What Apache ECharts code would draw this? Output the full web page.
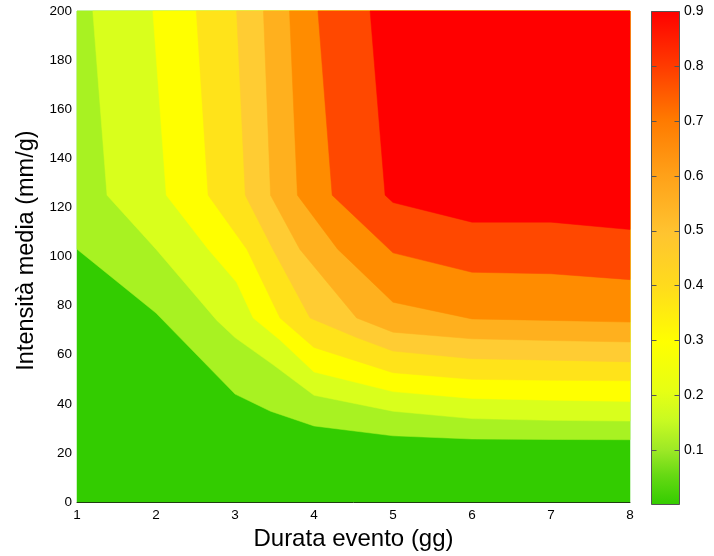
<!DOCTYPE html>
<html><head><meta charset="utf-8">
<script src="https://cdn.jsdelivr.net/npm/echarts@6/dist/echarts.min.js"></script>
<style>html,body{margin:0;padding:0;background:#fff}#c{width:714px;height:556px}</style>
</head><body><div id="c"></div>
<script>
// Axis ranges / ticks
const xRange = [1, 8];
const yRange = [0, 200];
const cbRange = [0, 0.9];
const cbTicks = [0.1, 0.2, 0.3, 0.4, 0.5, 0.6, 0.7, 0.8, 0.9];

// Contour boundary lines: [durata (gg), intensità (mm/g)]
const c1 = [[1,103],[2,77],[3,44],[3.45,37],[4,31],[5,27],[6,25.7],[7,25.5],[8,25.4]];
const c2 = [[1.2,200],[1.38,125],[2.0,103],[2.77,74],[3.0,67],[3.48,56],[4,43.5],[5,37],[6,34],[7,33.3],[8,33]];
const c3 = [[1.96,200],[2.13,125],[2.66,103],[3.02,89.5],[3.23,75],[3.57,66],[4,53],[5,45],[6,42.2],[7,41.5],[8,41]];
const c4 = [[2.51,200],[2.66,125],[3.15,103],[3.57,75],[4,63],[5,52.7],[6,50],[7,49.6],[8,49.4]];
const c5 = [[3.02,200],[3.13,125],[3.48,103],[3.95,75],[4.54,67],[5,61.5],[6,58.4],[7,57.8],[8,57.1]];
const c6 = [[3.36,200],[3.45,125],[3.82,103],[4.54,75],[5,69.2],[6,66.5],[7,65.8],[8,65.2]];
const c7 = [[3.69,200],[3.79,125],[4.3,103],[5,81.4],[6,74.6],[7,74],[8,73.3]];
const c8 = [[4.05,200],[4.23,125],[5,101.5],[6,93.6],[7,93],[8,90.6]];
const c9 = [[4.71,200],[4.9,125],[5,122],[6,114],[7,114],[8,111]];
const boundaries = [c1,c2,c3,c4,c5,c6,c7,c8,c9];

// Fill colours, low to high
const bandColors = ['#33CC00','#A8F222','#D9FF1C','#FFFF00','#FFE31A','#FFCC33','#FFB01E','#FF8C00','#FF4800','#FF0000'];
// Colour bar gradient stops (bottom -> top)
const cbStops = [[0,'#33CC00'],[0.06,'#66D913'],[0.11,'#9CE826'],[0.17,'#C8FA22'],[0.23,'#E6FF14'],[0.33,'#FFFF00'],[0.44,'#FFDC1C'],[0.55,'#FFC430'],[0.67,'#FFA018'],[0.78,'#FF7A00'],[0.89,'#FF3A00'],[1,'#FF0000']];

const font = 'Liberation Sans, Arial, sans-serif';

function bandSeries(i){
  return {
    type:'custom', xAxisIndex:0, yAxisIndex:0, silent:true, animation:false,
    data:[[xRange[0], yRange[0]]],
    renderItem:function(params, api){
      let poly;
      if(i===0){
        poly = [[xRange[0],yRange[0]],[xRange[1],yRange[0]],[xRange[1],yRange[1]],[xRange[0],yRange[1]]];
      } else {
        const c = boundaries[i-1];
        poly = c.slice();
        poly.push([xRange[1], yRange[1]]);
        if(c[0][1] < yRange[1]) poly.push([xRange[0], yRange[1]]);
      }
      return {type:'polygon', shape:{points:poly.map(p=>api.coord(p))}, style:{fill:bandColors[i], stroke:bandColors[i], lineWidth:0.5}};
    },
    z: 2
  };
}

const series = [];
for(let i=0;i<bandColors.length;i++) series.push(bandSeries(i));

// colour bar with inward ticks on both sides
series.push({
  type:'custom', xAxisIndex:1, yAxisIndex:1, silent:true, animation:false,
  data:[[0,0]],
  renderItem:function(params, api){
    const p0 = api.coord([0, cbRange[1]]);
    const p1 = api.coord([1, cbRange[0]]);
    const x0 = Math.round(p0[0])+0.5, x1 = Math.round(p1[0])-0.5;
    const y0 = Math.round(p0[1])+0.5, y1 = Math.round(p1[1])-0.5;
    const children = [{type:'rect', shape:{x:x0, y:y0, width:x1-x0, height:y1-y0},
      style:{fill:{type:'linear', x:0, y:1, x2:0, y2:0, colorStops:cbStops.map(s=>({offset:s[0], color:s[1]}))}, stroke:'#555', lineWidth:1}}];
    cbTicks.forEach(function(t){
      const y = Math.round(api.coord([0, t])[1]) + 0.5;
      children.push({type:'line', shape:{x1:x0, y1:y, x2:x0+5, y2:y}, style:{stroke:'#555', lineWidth:1}});
      children.push({type:'line', shape:{x1:x1-5, y1:y, x2:x1, y2:y}, style:{stroke:'#555', lineWidth:1}});
    });
    return {type:'group', children:children};
  },
  z: 3
});

const chart = echarts.init(document.getElementById('c'), null, {renderer:'canvas'});
chart.setOption({
  animation:false,
  backgroundColor:'#fff',
  grid:[
    {left:77, right:84, top:11, bottom:52},
    {left:651, width:29, top:11, bottom:51}
  ],
  xAxis:[
    {gridIndex:0, type:'value', min:xRange[0], max:xRange[1], interval:1,
     name:'Durata evento (gg)', nameLocation:'middle', nameGap:24,
     nameTextStyle:{fontFamily:font, fontSize:24, color:'#000'},
     axisLine:{show:true, lineStyle:{color:'#1f3d10', width:1}}, axisTick:{show:false},
     axisLabel:{fontFamily:font, fontSize:13.5, color:'#000', margin:6}, splitLine:{show:false}, z:5},
    {gridIndex:1, type:'value', min:0, max:1, show:false}
  ],
  yAxis:[
    {gridIndex:0, type:'value', min:yRange[0], max:yRange[1], interval:20,
     name:'Intensità media (mm/g)', nameLocation:'middle', nameGap:38,
     nameTextStyle:{fontFamily:font, fontSize:23.5, color:'#000', padding:[0,0,0,12]},
     axisLine:{show:false}, axisTick:{show:false},
     axisLabel:{fontFamily:font, fontSize:13.5, color:'#000', margin:5}, splitLine:{show:false}},
    {gridIndex:1, type:'value', position:'right', min:cbRange[0], max:cbRange[1], interval:0.1,
     axisLine:{show:false}, axisTick:{show:false},
     axisLabel:{fontFamily:font, fontSize:14, color:'#000', margin:4, formatter:v=>v<0.05?'':v.toFixed(1)},
     splitLine:{show:false}}
  ],
  series: series
});
</script></body></html>
